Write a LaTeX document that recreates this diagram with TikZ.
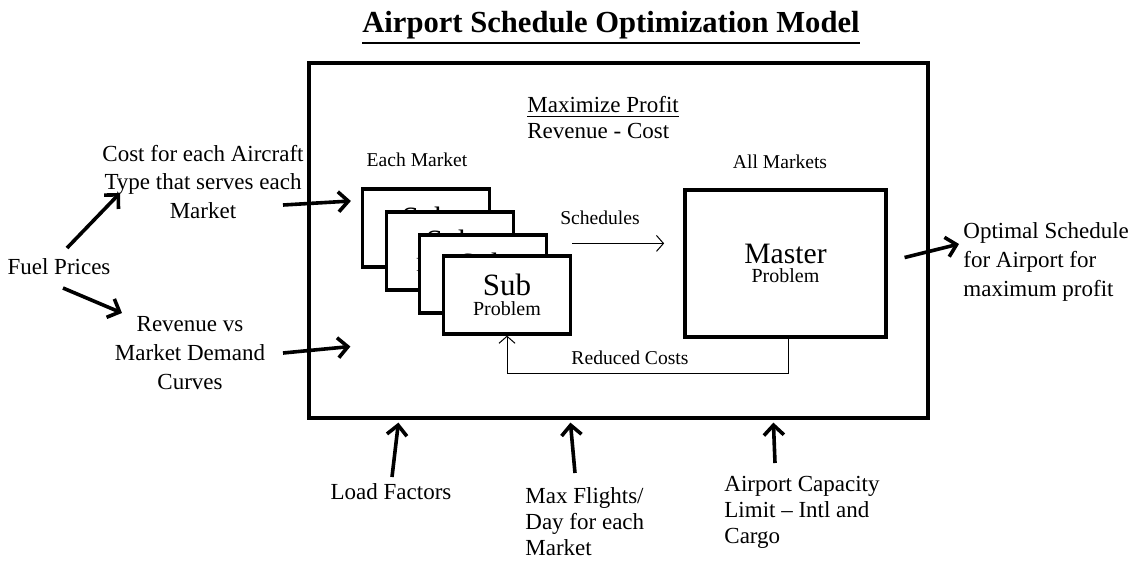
\documentclass[tikz,border=0pt]{standalone}
\usepackage{fontspec}
\setmainfont{Liberation Serif}
\usetikzlibrary{arrows.meta}

\newcommand{\undertext}[2]{\leavevmode\vtop{\hbox{#2}\kern1.2pt\hrule height #1}}

\tikzset{
  box/.style={draw, line width=1.6pt, fill=white, inner sep=0pt, align=center},
  txt/.style={inner sep=0pt, align=center, font=\fontsize{11.5}{14.3}\selectfont},
  lowtxt/.style={inner sep=0pt, align=left, anchor=west, font=\fontsize{11.5}{13}\selectfont},
  small/.style={inner sep=0pt, font=\fontsize{9.8}{12}\selectfont},
  fat/.style={line width=1.8pt, -{Straight Barb[length=5pt,width=10pt]}},
  slim/.style={line width=0.5pt, -{Straight Barb[length=3.5pt,width=8pt]}}
}

\begin{document}
\begin{tikzpicture}[x=0.5pt,y=-0.5pt]
\useasboundingbox (0,0) rectangle (1139,564);

\node[inner sep=0pt, font=\fontsize{15.3}{18}\selectfont\bfseries] (title) at (611,28) {\undertext{1.3pt}{Airport Schedule Optimization Model}};

\node[box, minimum width=309.5pt, minimum height=177.5pt] (model) at (618.5,240.5) {};

\node[txt, anchor=west] (maxp) at (527,107) {\undertext{0.9pt}{Maximize Profit}};
\node[txt, anchor=west] (revcost) at (527,131) {Revenue - Cost};
\node[small] (each) at (417,160) {Each Market};
\node[small] (all) at (780,162) {All Markets};

\foreach \i/\x/\y in {1/426/228, 2/450/251, 3/483/274, 4/507/295}
  \node[box, minimum width=63.5pt, minimum height=39pt] (sub\i) at (\x,\y)
    {{\fontsize{15.5}{16}\selectfont Sub}\\[-2pt]\fontsize{10}{9}\selectfont Problem};

\node[box, minimum width=100.5pt, minimum height=73.5pt] (master) at (785.5,263.5)
  {{\fontsize{14.8}{16}\selectfont Master}\\[-2.5pt]\fontsize{10}{8.5}\selectfont Problem};

\node[small] (sched) at (600,218) {Schedules};
\draw[slim] ([yshift=5.5pt]sub4.north east) -- ++(92,0);
\node[small] (reduced) at (630,358) {Reduced Costs};
\draw[slim] ([xshift=1.5pt]master.south) -- ++(0,35) -| (sub4.south);

\node[txt] (fuel) at (59,267) {Fuel Prices};
\node[txt] (cost) at (203,182) {Cost for each Aircraft\\Type that serves each\\Market};
\node[txt] (rev) at (190,353) {Revenue vs\\Market Demand\\Curves};
\node[txt, anchor=west, align=left] (opt) at (963,262) {Optimal Schedule\\for Airport for\\maximum profit};
\node[txt] (load) at (391,492) {Load Factors};
\node[lowtxt] (maxf) at (525,522) {Max Flights/\\Day for each\\Market};
\node[lowtxt] (cap) at (724,512) {Airport Capacity\\Limit -- Intl and\\Cargo};

\draw[fat] ([shift={(8,-19)}]fuel.center) -- ([shift={(-83,11)}]cost.center);
\draw[fat] ([shift={(4,21)}]fuel.center) -- ([shift={(-68,-40)}]rev.center);
\draw[fat] ([shift={(80,23)}]cost.center) -- ([shift={(-10,-27)}]sub1.west);
\draw[fat] ([shift={(93,0)}]rev.center) -- ([shift={(43,106)}]model.west);
\draw[fat] ([shift={(17,-6)}]master.east) -- ([shift={(-4,-18)}]opt.west);
\draw[fat] ([shift={(1,-15)}]load.center) -- ([shift={(91,3)}]model.south west);
\draw[fat] ([shift={(50,-49)}]maxf.west) -- ([shift={(263,3)}]model.south west);
\draw[fat] ([shift={(51,-49)}]cap.west) -- ([shift={(466,3)}]model.south west);
\end{tikzpicture}
\end{document}
